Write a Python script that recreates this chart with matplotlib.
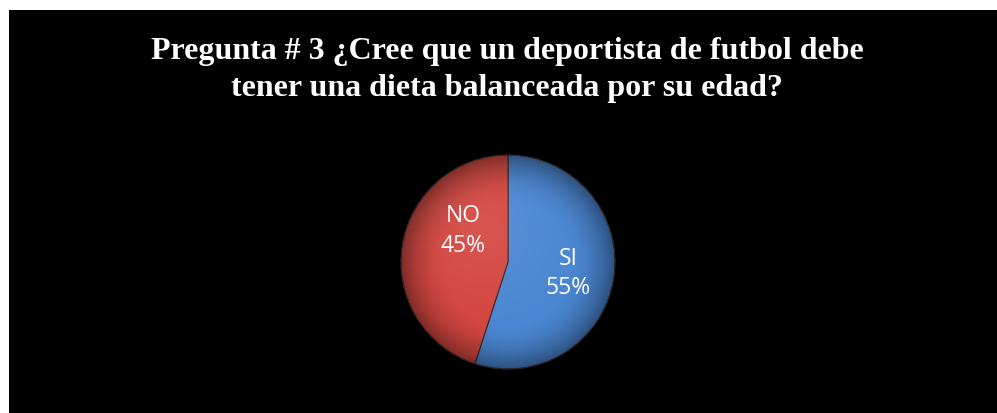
import numpy as np
import matplotlib.pyplot as plt
from matplotlib.patches import Rectangle, Circle

# respuestas a la pregunta 3
respuestas = ["SI", "NO"]
porcentajes = [55, 45]
colores = ["#4a86d2", "#d4463f"]
titulo = "Pregunta # 3 ¿Cree que un deportista de futbol debe\ntener una dieta balanceada por su edad?"

W, H = 997, 413
fig = plt.figure(figsize=(W / 100, H / 100), dpi=100)
fig.patch.set_facecolor("white")
# fondo negro del grafico
fig.add_artist(Rectangle((9 / W, 0), 1 - 9 / W, 1 - 10 / H, transform=fig.transFigure,
                         facecolor="black", edgecolor="none", zorder=0))

fig.text(507 / W, 1 - 70 / H, titulo, ha="center", va="center", color="white",
         family="Liberation Serif", weight="bold", fontsize=23, linespacing=1.32)

cx, cy, r = 508, 262, 107
ax = fig.add_axes([(cx - r) / W, (H - cy - r) / H, 2 * r / W, 2 * r / H])
ax.set_facecolor("none")
wedges, _ = ax.pie(porcentajes, colors=colores, startangle=90, counterclock=False,
                   wedgeprops=dict(edgecolor="#3a2a2a", linewidth=0.8))

# sombreado radial suave sobre el circulo
n = 300
yy, xx = np.mgrid[-1.1:1.1:n * 1j, -1.1:1.1:n * 1j]
rr = np.hypot(xx, yy)
luz = np.hypot(xx + 0.2, yy - 0.3)
oscuro = np.clip((rr - 0.55) / 0.45, 0, 1) ** 2 * 0.4
claro = np.exp(-(luz / 0.6) ** 2) * 0.08
img = np.zeros((n, n, 4))
img[..., :3] = (claro / (claro + oscuro + 1e-9))[..., None]
img[..., 3] = np.clip(oscuro + claro, 0, 1)
im = ax.imshow(img, extent=[-1.1, 1.1, -1.1, 1.1], origin="lower", zorder=3,
               interpolation="bilinear")
im.set_clip_path(Circle((0, 0), 1, transform=ax.transData))

ax.set_xlim(-1, 1)
ax.set_ylim(-1, 1)
ax.set_aspect("equal")

posiciones = {"SI": (0.56, -0.11), "NO": (-0.42, 0.29)}
for nombre, p in zip(respuestas, porcentajes):
    x, y = posiciones[nombre]
    ax.text(x, y, f"{nombre}\n{p}%", ha="center", va="center", color="white",
            family="Open Sans", fontsize=16.5, linespacing=1.3, zorder=5)

fig.savefig("out.png", dpi=100, facecolor=fig.get_facecolor())
